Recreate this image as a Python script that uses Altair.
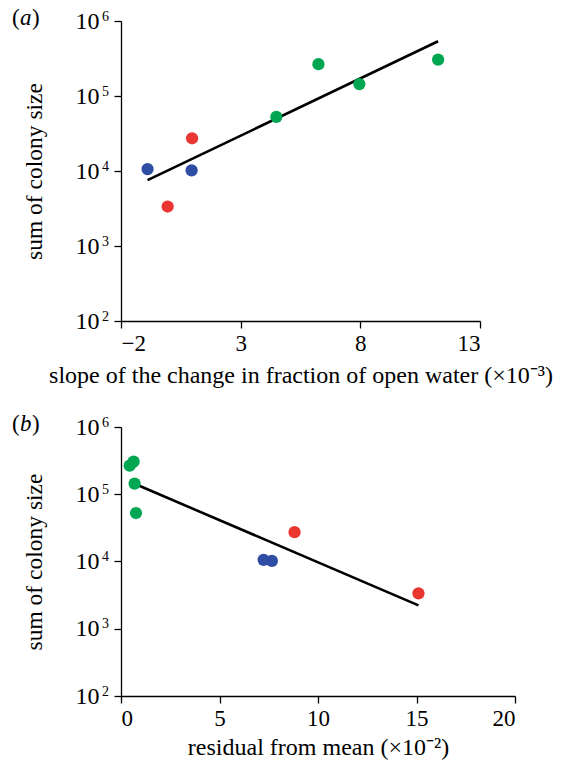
import altair as alt
import pandas as pd

# data
groups = ["blue", "red", "red", "blue", "green", "green", "green", "green"]
colony = [10600, 3360, 27300, 10200, 52600, 266000, 144000, 305000]
slope_x = [-0.89, -0.05, 0.97, 0.95, 4.49, 6.25, 7.96, 11.25]
resid_x = [7.24, 15.1, 8.81, 7.66, 0.76, 0.44, 0.69, 0.64]

fit_a_x = [-0.89, 11.25]
fit_a_y = [7540, 537000]
fit_b_x = [0.84, 15.1]
fit_b_y = [137000, 2230]

y_ticks = [100, 1000, 10000, 100000, 1000000]
y_exponents = ["2", "3", "4", "5", "6"]
xa_ticks = [-2, 3, 8, 13]
xb_ticks = [0, 5, 10, 15, 20]

group_domain = ["blue", "red", "green"]
group_colors = ["#2f4ea3", "#ea3630", "#00a651"]

FONT = "Liberation Serif"

df_a = pd.DataFrame({"x": slope_x, "y": colony, "g": groups})
df_b = pd.DataFrame({"x": resid_x, "y": colony, "g": groups})
fa = pd.DataFrame({"x": fit_a_x, "y": fit_a_y})
fb = pd.DataFrame({"x": fit_b_x, "y": fit_b_y})
exp_df = pd.DataFrame({"y": y_ticks, "e": y_exponents})

y_scale = alt.Scale(type="log", domain=[100, 1000000], nice=False)
y_enc = alt.Y("y:Q", scale=y_scale,
              axis=alt.Axis(values=y_ticks, labelExpr="'10'", title="sum of colony size",
                            titlePadding=29, labelPadding=15, tickSize=7,
                            titleFontSize=23.5))

color_enc = alt.Color("g:N", scale=alt.Scale(domain=group_domain, range=group_colors), legend=None)


def panel(df, fit, xdomain, xticks, xtitle, letter, w, h, tpad):
    x_enc = alt.X("x:Q", scale=alt.Scale(domain=xdomain, nice=False, zero=False),
                  axis=alt.Axis(values=xticks, title=xtitle, labelPadding=4, tickSize=7,
                                titlePadding=tpad, labelFontSize=23))
    line = alt.Chart(fit).mark_line(color="black", strokeWidth=2.6).encode(x=x_enc, y=y_enc)
    pts = alt.Chart(df).mark_circle(size=150, opacity=1).encode(x="x:Q", y="y:Q", color=color_enc)
    exps = alt.Chart(exp_df).mark_text(
        font=FONT, fontSize=14, align="left", baseline="alphabetic", dy=-0.5).encode(
        text="e:N", x=alt.value(-19), y=alt.Y("y:Q"))
    lp = alt.Chart(pd.DataFrame({"t": ["("]})).mark_text(
        font=FONT, fontSize=23, align="left", baseline="middle").encode(
        text="t:N", x=alt.value(-109), y=alt.value(-3))
    lm = alt.Chart(pd.DataFrame({"t": [letter]})).mark_text(
        font=FONT, fontSize=23, fontStyle="italic", align="left", baseline="middle").encode(
        text="t:N", x=alt.value(-101), y=alt.value(-3))
    lr = alt.Chart(pd.DataFrame({"t": [")"]})).mark_text(
        font=FONT, fontSize=23, align="left", baseline="middle").encode(
        text="t:N", x=alt.value(-89), y=alt.value(-3))
    return alt.layer(line, pts, exps, lp, lm, lr).properties(width=w, height=h)


pa = panel(df_a, fa, [-2, 13], xa_ticks,
           "slope of the change in fraction of open water (×10⁻³)", "a", 359, 300, 8)
pb = panel(df_b, fb, [0, 20], xb_ticks, "residual from mean (×10⁻²)", "b", 394, 269, 5)

chart = alt.vconcat(pa, pb, spacing=26).properties(
    padding={"left": 12, "top": 7, "right": 5, "bottom": 1}
).configure_view(stroke=None).configure_axis(
    grid=False, domainColor="black", tickColor="black", domainWidth=1.3, tickWidth=1.3,
    labelFont=FONT, labelFontSize=24, labelColor="black",
    titleFont=FONT, titleFontSize=24, titleFontWeight="normal", titleColor="black"
)

chart.save("out.html", embed_options={"renderer": "svg", "actions": False})
